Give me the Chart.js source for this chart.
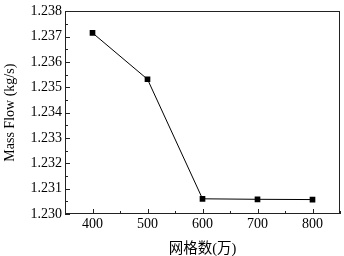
<!DOCTYPE html>
<html>
<head>
<meta charset="utf-8">
<script src="https://cdn.jsdelivr.net/npm/chart.js@4/dist/chart.umd.min.js"></script>
<style>
  html, body { margin: 0; padding: 0; background: #fff; }
  #wrap { width: 344px; height: 256px; }
</style>
</head>
<body>
<div id="wrap"><canvas id="myChart" width="344" height="256"></canvas></div>
<script>
// 網格數 (萬) 與質量流量
const gridCounts = [400, 500, 600, 700, 800];
const massFlow = [1.23715, 1.23532, 1.23060, 1.23058, 1.23057];
const yTicks = [1.230, 1.231, 1.232, 1.233, 1.234, 1.235, 1.236, 1.237, 1.238];
const xTicks = [400, 500, 600, 700, 800];

const serif = "'Liberation Serif', 'Times New Roman', 'Noto Sans CJK SC', serif";

// 內側刻度與外框
const frameTicks = {
  id: 'frameTicks',
  afterDraw(chart) {
    const ctx = chart.ctx;
    const a = chart.chartArea;
    const xs = chart.scales.x;
    const ys = chart.scales.y;
    ctx.save();
    ctx.strokeStyle = '#222';
    ctx.lineWidth = 1;
    ctx.strokeRect(Math.round(a.left) + 0.5, Math.round(a.top) + 0.5,
      Math.round(a.right - a.left) - 1, Math.round(a.bottom - a.top) - 1);
    ctx.beginPath();
    ys.ticks.forEach(t => {
      const y = Math.round(ys.getPixelForValue(t.value)) + 0.5;
      const major = yTicks.some(v => Math.abs(v - t.value) < 1e-7);
      ctx.moveTo(a.left, y);
      ctx.lineTo(a.left + (major ? 5 : 3), y);
    });
    xs.ticks.forEach(t => {
      const x = Math.round(xs.getPixelForValue(t.value)) + 0.5;
      const major = xTicks.includes(t.value);
      ctx.moveTo(x, a.bottom);
      ctx.lineTo(x, a.bottom - (major ? 5 : 3));
    });
    ctx.stroke();
    ctx.restore();
  }
};

const ctx = document.getElementById('myChart');
const myChart = new Chart(ctx, {
  type: 'line',
  data: {
    datasets: [{
      data: gridCounts.map((g, i) => ({ x: g, y: massFlow[i] })),
      borderColor: '#000',
      backgroundColor: '#000',
      borderWidth: 1,
      pointStyle: 'rect',
      pointRadius: 4,
      pointBorderWidth: 0,
      tension: 0,
    }]
  },
  options: {
    responsive: false,
    animation: false,
    layout: { padding: { top: 7, right: 3, left: 0, bottom: 0 } },
    plugins: { legend: { display: false }, tooltip: { enabled: false } },
    scales: {
      x: {
        type: 'linear',
        min: 350,
        max: 850,
        grid: { display: false, drawTicks: false },
        border: { display: false },
        ticks: {
          stepSize: 50,
          autoSkip: false,
          maxRotation: 0,
          padding: 2,
          color: '#000',
          font: { family: serif, size: 14 },
          callback: v => xTicks.includes(v) ? String(v) : ''
        },
        title: {
          display: true,
          text: '网格数(万)',
          color: '#000',
          font: { family: serif, size: 14.5 },
          padding: { top: 0, bottom: -2 }
        },
        afterFit(scale) { scale.height = 42; }
      },
      y: {
        min: 1.230,
        max: 1.238,
        grid: { display: false, drawTicks: false },
        border: { display: false },
        ticks: {
          stepSize: 0.0005,
          autoSkip: false,
          padding: 3,
          color: '#000',
          font: { family: serif, size: 14 },
          callback: v => yTicks.some(t => Math.abs(t - v) < 1e-7) ? v.toFixed(3) : ''
        },
        title: {
          display: true,
          text: 'Mass Flow (kg/s)',
          color: '#000',
          font: { family: serif, size: 14 },
          padding: { top: 2, bottom: 0 }
        },
        afterFit(scale) { scale.width = 65; }
      }
    }
  },
  plugins: [frameTicks]
});
</script>
</body>
</html>
